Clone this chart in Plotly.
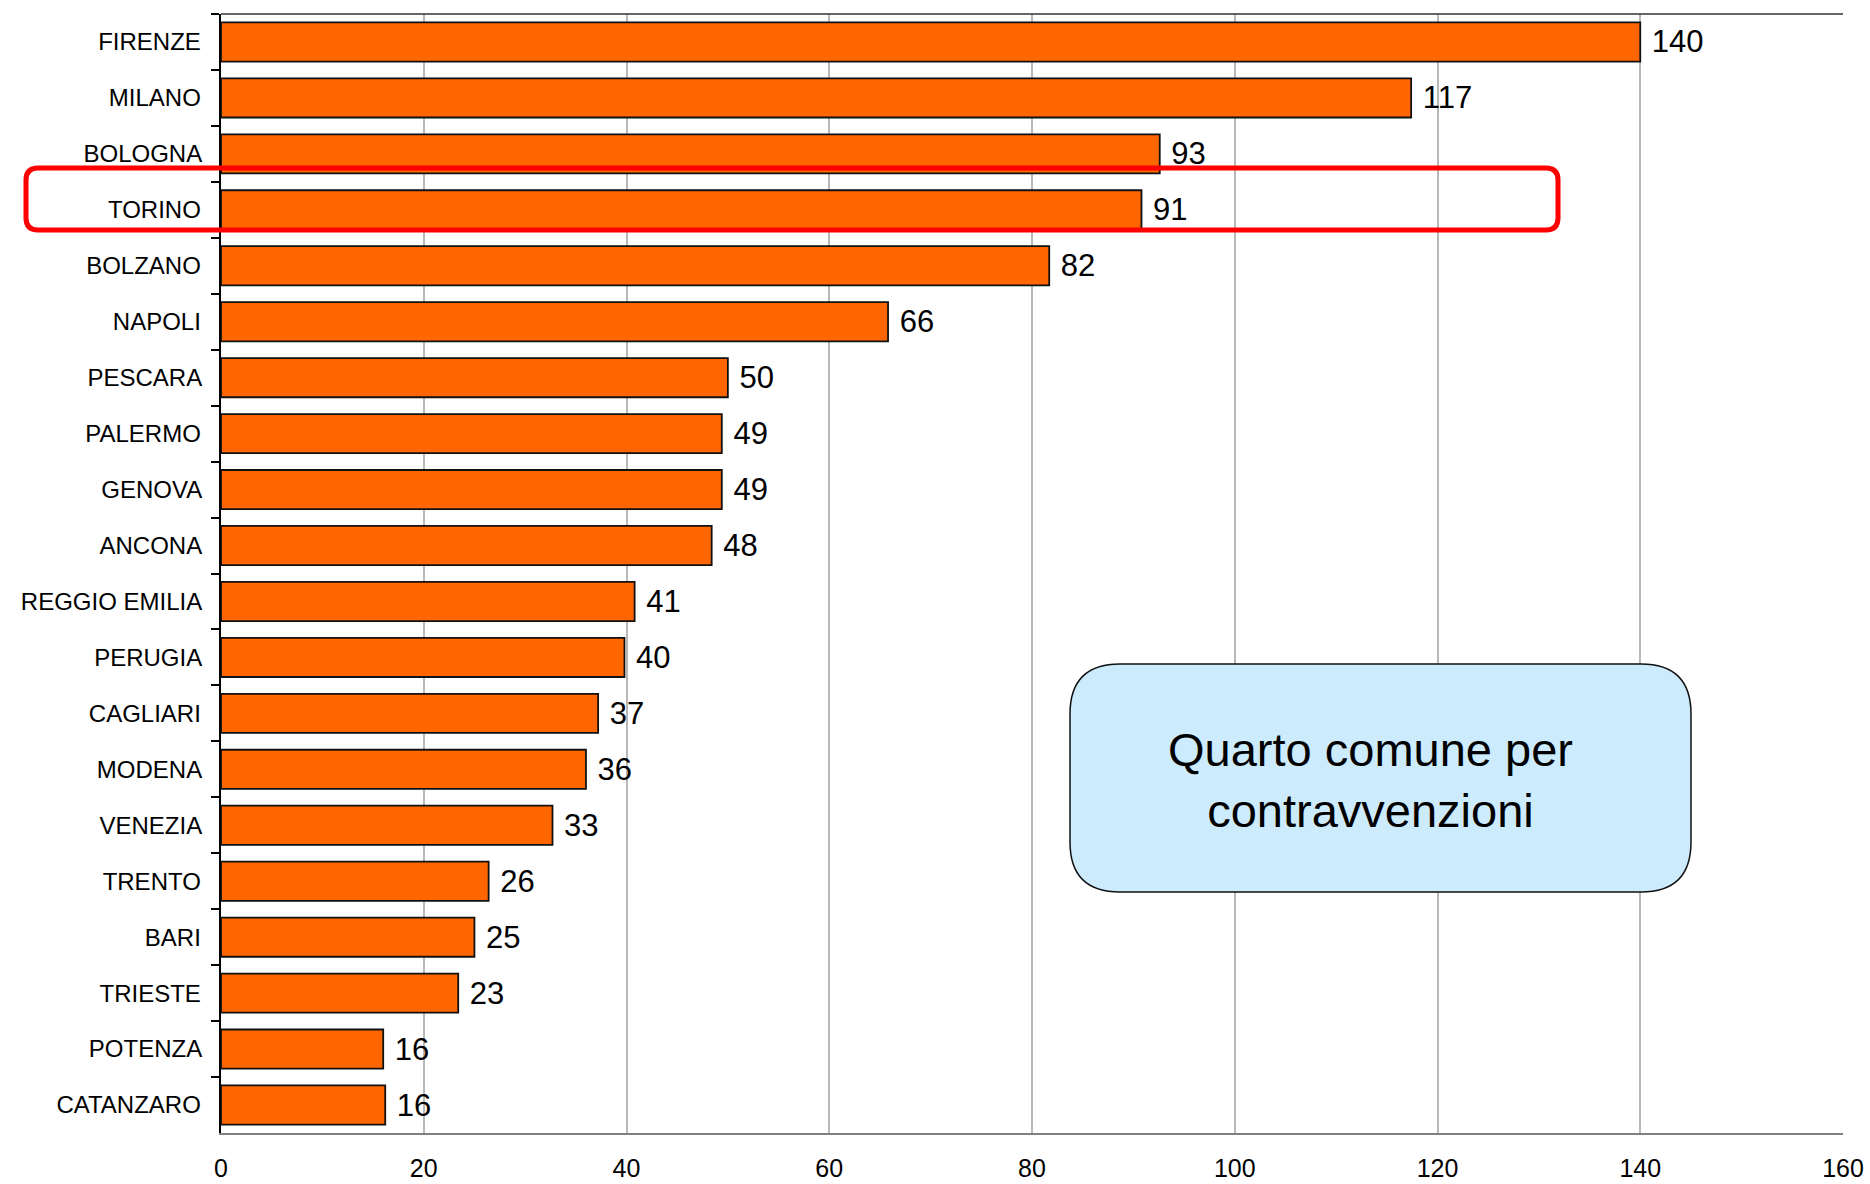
import plotly.graph_objects as go

cities = ["FIRENZE", "MILANO", "BOLOGNA", "TORINO", "BOLZANO", "NAPOLI", "PESCARA",
          "PALERMO", "GENOVA", "ANCONA", "REGGIO EMILIA", "PERUGIA", "CAGLIARI",
          "MODENA", "VENEZIA", "TRENTO", "BARI", "TRIESTE", "POTENZA", "CATANZARO"]
values = [140.0, 117.4, 92.6, 90.8, 81.7, 65.8, 50.0, 49.4, 49.4, 48.4, 40.8, 39.8,
          37.2, 36.0, 32.7, 26.4, 25.0, 23.4, 16.0, 16.2]
x_ticks = [0, 20, 40, 60, 80, 100, 120, 140, 160]
note_text = "Quarto comune per<br>contravvenzioni"
highlight = "TORINO"

W, H = 1870, 1184
L, R, T, B = 221, 1843, 14, 1133
FONT = "Liberation Sans, Arial, sans-serif"


def px(x):
    return (x - L) / (R - L)


def py(y):
    return 1 - (y - T) / (B - T)


def rounded_path(x0, y0, x1, y1, r):
    rx = r / (R - L)
    ry = r / (B - T)
    a, b, c, d = px(x0), py(y0), px(x1), py(y1)
    return (f"M {a+rx},{b} L {c-rx},{b} Q {c},{b} {c},{b-ry} "
            f"L {c},{d+ry} Q {c},{d} {c-rx},{d} L {a+rx},{d} "
            f"Q {a},{d} {a},{d+ry} L {a},{b-ry} Q {a},{b} {a+rx},{b} Z")


fig = go.Figure()
fig.add_trace(go.Bar(
    x=values, y=cities, orientation="h",
    marker=dict(color="#FF6600", line=dict(color="#111111", width=1.8)),
    texttemplate="\u00a0%{x:.0f}", textposition="outside",
    textfont=dict(family=FONT, size=31, color="#000000"),
    cliponaxis=False, width=0.7,
))

shapes = [
    dict(type="line", xref="paper", yref="paper", x0=0, x1=1, y0=1, y1=1,
         line=dict(color="#333333", width=1.5)),
    dict(type="path", xref="paper", yref="paper",
         path=rounded_path(1070, 664, 1691, 892, 50),
         fillcolor="#CCEBFD", line=dict(color="#111111", width=1.5), layer="above"),
    dict(type="path", xref="paper", yref="paper",
         path=rounded_path(26, 168, 1558, 230, 12),
         fillcolor="rgba(0,0,0,0)", line=dict(color="#FF0000", width=5), layer="above"),
]

fig.update_layout(
    width=W, height=H,
    margin=dict(l=L, r=W - R, t=T, b=H - B, pad=0),
    paper_bgcolor="white", plot_bgcolor="white",
    showlegend=False, bargap=0.3,
    font=dict(family=FONT, color="#000000"),
    shapes=shapes,
    annotations=[dict(xref="paper", yref="paper", x=px(1370), y=py(780),
                      xanchor="center", yanchor="middle",
                      text=note_text, showarrow=False,
                      font=dict(family=FONT, size=47, color="#000000"),
                      align="center")],
    xaxis=dict(range=[0, 160], tickvals=x_ticks, showgrid=True,
               gridcolor="#b8b8b8", gridwidth=1.5, zeroline=False,
               showline=True, linecolor="#808080", linewidth=2,
               ticks="", ticklabelstandoff=12, automargin=False,
               tickfont=dict(family=FONT, size=25, color="#000000"),
               fixedrange=True),
    yaxis=dict(categoryorder="array", categoryarray=cities, autorange="reversed",
               showline=True, linecolor="#000000", linewidth=2, automargin=False,
               ticks="outside", ticklen=8, tickcolor="#000000", tickwidth=1.5,
               tickson="boundaries", showgrid=False, ticksuffix="  ",
               tickfont=dict(family=FONT, size=24, color="#000000")),
)

fig.write_html("out.html", config={"displayModeBar": False},
               post_script="document.body.style.margin='0';document.body.style.overflow='hidden';")
